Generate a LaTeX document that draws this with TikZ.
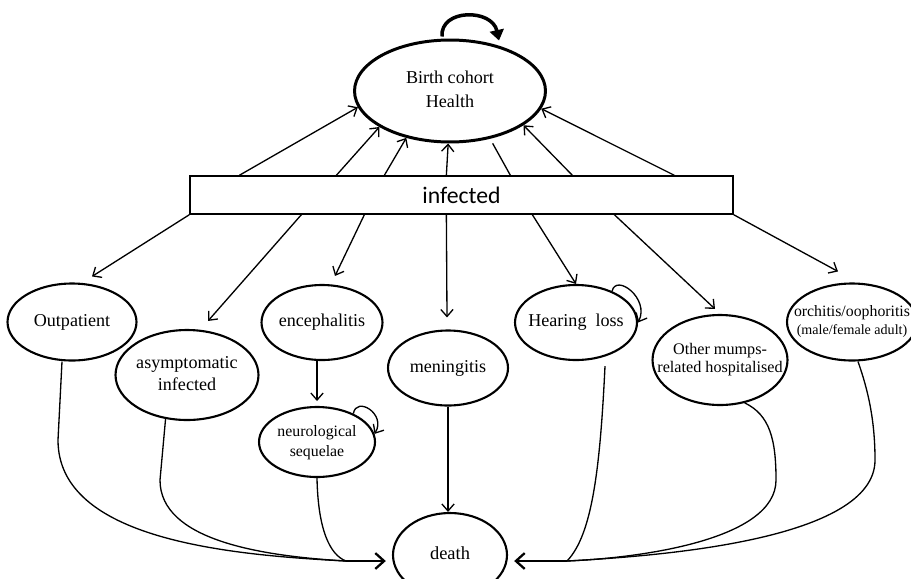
\documentclass[tikz,border=0pt]{standalone}
\usepackage{fontspec}
\setmainfont{Liberation Serif}
\newfontfamily\boxfont{Carlito}
\usetikzlibrary{shapes.geometric,arrows.meta}

% text of a state, kept out of the ellipse size
\newcommand\elltext[1]{\makebox[0pt]{\begin{tabular}{@{}c@{}}#1\end{tabular}}}

\begin{document}
\begin{tikzpicture}[x=0.02cm, y=-0.02cm,
    state/.style={ellipse, draw, line width=1.2pt, inner sep=0pt,
        font=\fontsize{10.3}{12.5}\selectfont},
    link/.style={-{Straight Barb[length=4pt,width=7pt]}, line width=0.75pt},
    todeath/.style={line width=0.75pt},
    mergearrow/.style={-{Straight Barb[length=5pt,width=9pt]}, line width=1.3pt, shorten >=3.5pt}]
    \useasboundingbox (0,0) rectangle (911,578);

    % Health state and infected box
    \node[state, line width=1.7pt, minimum width=3.82cm, minimum height=2.04cm,
        font=\fontsize{10.3}{13.6}\selectfont] (health) at (450,91) {\elltext{Birth cohort\\Health}};
    \node[draw, line width=0.8pt, minimum width=10.86cm, minimum height=0.76cm,
        font=\boxfont\fontsize{13.5}{16}\selectfont] (inf) at (461.5,195) {infected};

    % Disease states
    \node[state, minimum width=2.58cm, minimum height=1.54cm] (out) at (72,322) {\elltext{Outpatient}};
    \node[state, minimum width=2.86cm, minimum height=1.8cm] (asym) at (187,375) {\elltext{asymptomatic\\infected}};
    \node[state, minimum width=2.42cm, minimum height=1.5cm] (enc) at (322,322.5) {\elltext{encephalitis}};
    \node[state, minimum width=2.4cm, minimum height=1.5cm] (men) at (448,368) {\elltext{meningitis}};
    \node[state, minimum width=2.44cm, minimum height=1.5cm] (hear) at (576,322.5) {\elltext{Hearing\enspace loss}};
    \node[state, minimum width=2.7cm, minimum height=1.8cm,
        font=\fontsize{9.2}{10.2}\selectfont] (other) at (720,360) {\elltext{Other mumps-\\related hospitalised}};
    \node[state, minimum width=2.6cm, minimum height=1.54cm,
        font=\fontsize{9}{10.2}\selectfont] (orch) at (852,322)
        {\elltext{orchitis/oophoritis\\{\fontsize{8}{9}\selectfont(male/female adult)}}};
    \node[state, minimum width=2.32cm, minimum height=1.4cm,
        font=\fontsize{9}{11.4}\selectfont] (neuro) at (317,442) {\elltext{neurological\\sequelae}};
    \node[state, minimum width=2.28cm, minimum height=1.68cm,
        font=\fontsize{10.5}{12}\selectfont] (death) at (450,555) {\elltext{death}};

    % Self loop of the health state
    \draw[line width=2pt, -{Triangle[length=6pt,width=8pt]}]
        ([shift={(-8,-2)}]health.north) .. controls +(-2,-28) and +(-7,-32) .. ([shift={(49,2)}]health.north);

    % Back to health
    \draw[link] ([shift={(50,0)}]inf.north west) -- (health.190);
    \draw[link] ([shift={(147,0)}]inf.north west) -- (health.207);
    \draw[link] ([shift={(195,0)}]inf.north west) -- (health.227);
    \draw[link] ([shift={(257,0)}]inf.north west) -- (health.268);
    \draw[link] ([shift={(383,0)}]inf.north west) -- (health.335);
    \draw[link] ([shift={(485,0)}]inf.north west) -- (health.349);
    \draw[line width=0.75pt, shorten >=3pt] ([shift={(321,0)}]inf.north west) -- (health.310);

    % From infected to each state
    \draw[link] (inf.south west) -- ([shift={(20,-6)}]out.north);
    \draw[link] ([shift={(112,0)}]inf.south west) -- ([shift={(21,-8)}]asym.north);
    \draw[link] ([shift={(175,0)}]inf.south west) -- ([shift={(13,-8)}]enc.north);
    \draw[link] ([shift={(257,0)}]inf.south west) -- ([shift={(-1,-12)}]men.north);
    \draw[link] ([shift={(343,0)}]inf.south west) -- (hear.north);
    \draw[link] ([shift={(425,0)}]inf.south west) -- ([shift={(-5,-5)}]other.north);
    \draw[link] (inf.south east) -- ([shift={(-14,-11)}]orch.north);

    % Sequelae and loops
    \draw[link, shorten >=2.8pt] (neuro.north |- enc.south) -- (neuro.north);
    \draw[link] (men.south) -- (men.south |- death.north);
    \draw[link] (hear.41) .. controls +(4,-18) and +(12,-24) .. (hear.east);
    \draw[link] (neuro.38) .. controls +(3,-18) and +(12,-20) .. (neuro.8);

    % Paths to death
    \coordinate (dl) at (346,561);
    \coordinate (dr) at (567,561);
    \draw[todeath] ([shift={(-10,0)}]out.south) -- (58,440) .. controls (58,540) and (230,555) .. (dl);
    \draw[todeath] (asym.244) -- (160,480) .. controls (160,540) and (260,556) .. (dl);
    \draw[todeath] (neuro.south) .. controls (318,530) and (330,555) .. (dl);
    \draw[todeath] ([shift={(29,5)}]hear.south) .. controls (600,470) and (592,535) .. (dr);
    \draw[todeath] (other.300) .. controls (770,415) and (776,440) .. (776,480)
        .. controls (776,540) and (640,558) .. (dr);
    \draw[todeath] ([shift={(6,0)}]orch.south) .. controls (868,390) and (875,420) .. (875,460)
        .. controls (875,540) and (660,556) .. (dr);
    \draw[mergearrow] (dl) -- (death.west |- dl);
    \draw[mergearrow] (dr) -- (death.east |- dr);

\end{tikzpicture}
\end{document}
